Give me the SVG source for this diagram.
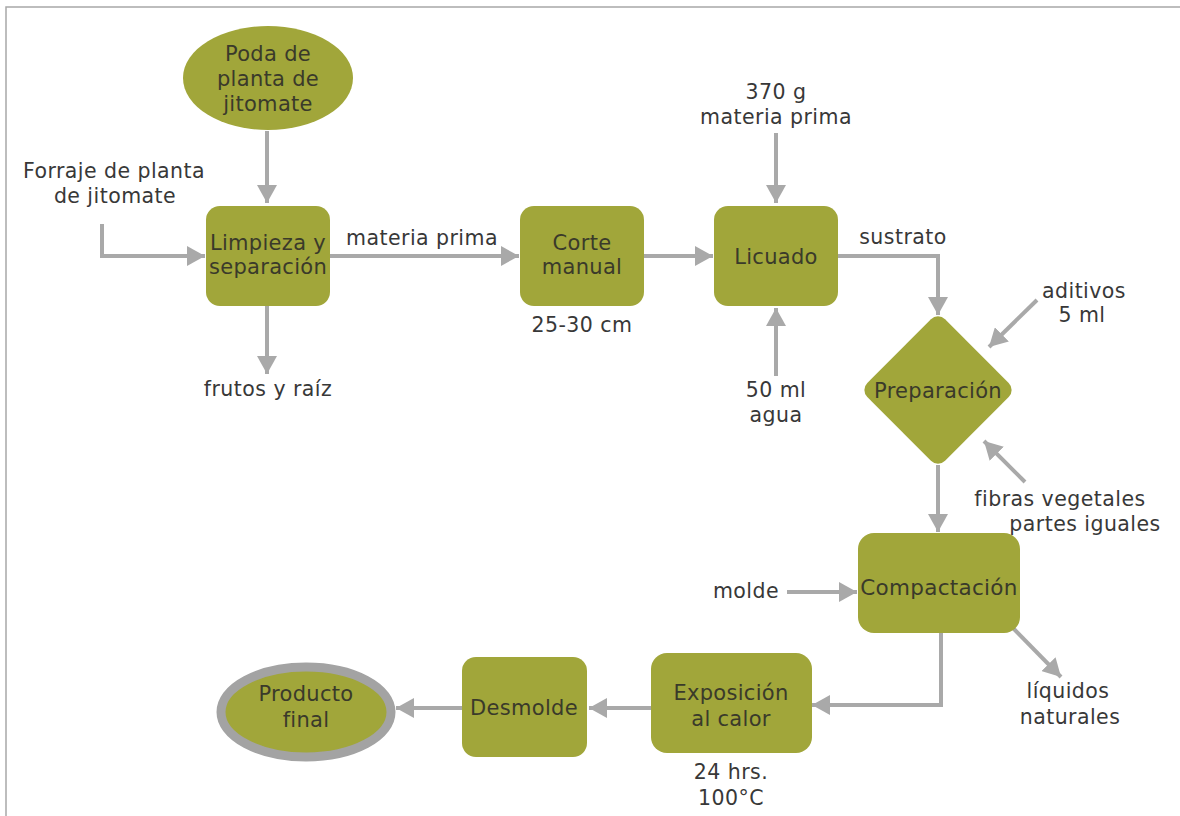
<svg xmlns="http://www.w3.org/2000/svg" width="1180" height="816" viewBox="0 0 1180 816">
<defs>
<style>
.n{fill:#a1a63a}
.t{font-family:"DejaVu Sans","Liberation Sans",sans-serif;font-size:20.5px;fill:#383838;text-anchor:middle;letter-spacing:0.45px}
.nt{font-family:"DejaVu Sans","Liberation Sans",sans-serif;font-size:21px;fill:#3a3a2a;text-anchor:middle;letter-spacing:0.3px}
.c{fill:none;stroke:#a9a9a9;stroke-width:4;marker-end:url(#ah)}
</style>
<marker id="ah" viewBox="0 0 18 20" refX="18" refY="10" markerWidth="18" markerHeight="20" markerUnits="userSpaceOnUse" orient="auto">
<path d="M0,0 L18,10 L0,20 z" fill="#a9a9a9"/>
</marker>
</defs>
<rect width="1180" height="816" fill="#fff"/>
<path d="M6,816 V7 H1180" fill="none" stroke="#a8a8a8" stroke-width="1.5"/>

<g id="connectors">
<path class="c" d="M267,131 V203"/>
<path class="c" d="M102,224 V256 H205"/>
<path class="c" d="M330,256 H519"/>
<path class="c" d="M644,256 H713"/>
<path class="c" d="M776,133 V203"/>
<path class="c" d="M776,376 V308"/>
<path class="c" d="M838,256 H938 V315"/>
<path class="c" d="M1037,300 L989,347"/>
<path class="c" d="M1025,482 L984,441"/>
<path class="c" d="M938,465 V532"/>
<path class="c" d="M787,592 H857"/>
<path class="c" d="M1013,628 L1061,677"/>
<path class="c" d="M941,633 V705 H812"/>
<path class="c" d="M651,708 H589"/>
<path class="c" d="M462,708 H396"/>
<path class="c" d="M267,306 V374"/>
</g>

<g id="poda">
<ellipse class="n" cx="268" cy="78" rx="85" ry="52"/>
<text class="nt" x="268" y="61">Poda de</text>
<text class="nt" x="268" y="86">planta de</text>
<text class="nt" x="268" y="111">jitomate</text>
</g>
<g id="forraje">
<text class="t" x="114" y="178">Forraje de planta</text>
<text class="t" x="115" y="203">de jitomate</text>
</g>
<g id="limpieza">
<rect class="n" x="206" y="206" width="124" height="100" rx="14"/>
<text class="nt" x="268" y="250">Limpieza y</text>
<text class="nt" x="268" y="274">separación</text>
</g>
<text class="t" x="422" y="245">materia prima</text>
<text class="t" x="268" y="396">frutos y raíz</text>
<g id="corte">
<rect class="n" x="520" y="206" width="124" height="100" rx="14"/>
<text class="nt" x="582" y="250">Corte</text>
<text class="nt" x="582" y="274">manual</text>
</g>
<text class="t" x="582" y="332">25-30 cm</text>
<g id="licuado">
<rect class="n" x="714" y="206" width="124" height="100" rx="14"/>
<text class="nt" x="776" y="264">Licuado</text>
</g>
<text class="t" x="776" y="99">370 g</text>
<text class="t" x="776" y="124">materia prima</text>
<text class="t" x="776" y="397">50 ml</text>
<text class="t" x="776" y="422">agua</text>
<text class="t" x="903" y="244">sustrato</text>
<g id="preparacion">
<rect class="n" x="-55" y="-55" width="110" height="110" rx="10" transform="translate(938,390) rotate(45)"/>
<text class="nt" x="938" y="398">Preparación</text>
</g>
<text class="t" x="1084" y="298">aditivos</text>
<text class="t" x="1082" y="322">5 ml</text>
<text class="t" x="1060" y="506">fibras vegetales</text>
<text class="t" x="1085" y="531">partes iguales</text>
<g id="compactacion">
<rect class="n" x="858" y="533" width="162" height="100" rx="16"/>
<text class="nt" x="939" y="595" style="font-size:21.5px">Compactación</text>
</g>
<text class="t" x="746" y="598">molde</text>
<text class="t" x="1068" y="698">líquidos</text>
<text class="t" x="1070" y="724">naturales</text>
<g id="exposicion">
<rect class="n" x="651" y="653" width="161" height="100" rx="16"/>
<text class="nt" x="731" y="700">Exposición</text>
<text class="nt" x="731" y="726">al calor</text>
</g>
<text class="t" x="731" y="779">24 hrs.</text>
<text class="t" x="731" y="805">100°C</text>
<g id="desmolde">
<rect class="n" x="462" y="657" width="125" height="100" rx="14"/>
<text class="nt" x="524" y="715">Desmolde</text>
</g>
<g id="producto">
<ellipse class="n" cx="306" cy="712" rx="85" ry="45" stroke="#a3a3a3" stroke-width="9"/>
<text class="nt" x="306" y="701">Producto</text>
<text class="nt" x="306" y="727">final</text>
</g>
</svg>
